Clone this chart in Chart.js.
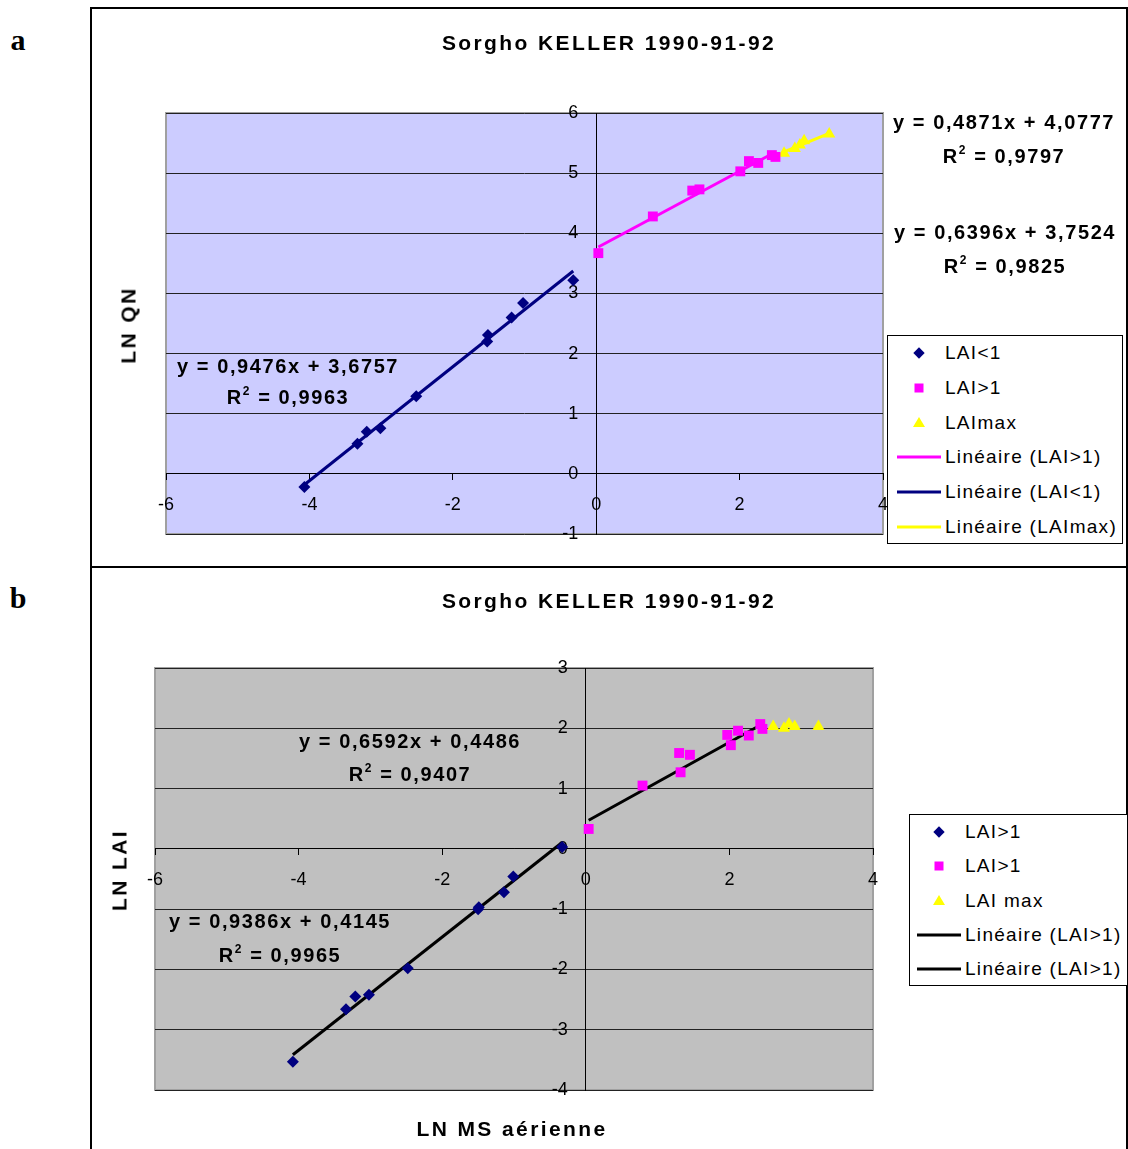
<!DOCTYPE html>
<html>
<head>
<meta charset="utf-8">
<script src="https://cdn.jsdelivr.net/npm/chart.js@4.4.0/dist/chart.umd.min.js"></script>
<style>
  body { margin: 0; width: 1128px; height: 1149px; background: #fff; position: relative; overflow: hidden;
         font-family: 'Liberation Sans', Arial, sans-serif; color: #000; }
  canvas { position: absolute; }
  .frame { position: absolute; left: 90px; top: 7px; width: 1038px; height: 1160px; border: 2px solid #000; box-sizing: border-box; }
  .sep { position: absolute; left: 90px; top: 566px; width: 1038px; height: 2px; background: #000; }
  .txt { position: absolute; white-space: nowrap; transform: translate(-50%, -50%); line-height: 1; }
  .bold { font-weight: bold; font-size: 20px; letter-spacing: 1.6px; }
  .title { font-weight: bold; font-size: 21px; letter-spacing: 2.4px; }
  .letter { font-family: 'Liberation Serif', 'Times New Roman', serif; font-weight: bold; font-size: 30px; }
  sup { font-size: 12px; vertical-align: 9px; line-height: 0; }
  .legend { position: absolute; background: #fff; border: 1px solid #000; box-sizing: border-box; }
  .row { position: absolute; left: 0; font-size: 19px; letter-spacing: 1.3px; line-height: 1; }
  .mk { position: absolute; }
</style>
</head>
<body>
<div class="frame"></div>
<div class="sep"></div>
<canvas id="chartA" width="1034" height="557" style="left:92px;top:9px"></canvas>
<canvas id="chartB" width="1034" height="581" style="left:92px;top:568px"></canvas>
<script>
// panel a : LN QN vs LN MS aerienne
const aLowX = [-4.07, -3.33, -3.20, -3.01, -2.51, -1.52, -1.51, -1.18, -1.02, -0.32];
const aLowY = [-0.22, 0.50, 0.70, 0.76, 1.29, 2.20, 2.31, 2.60, 2.84, 3.22];
const aHighX = [0.03, 0.79, 1.34, 1.44, 2.01, 2.13, 2.26, 2.45, 2.50];
const aHighY = [3.67, 4.28, 4.71, 4.73, 5.03, 5.20, 5.17, 5.30, 5.27];
const aMaxX = [2.62, 2.77, 2.84, 2.90, 3.25];
const aMaxY = [5.33, 5.41, 5.47, 5.54, 5.65];
const aFitLow = [0.9476, 3.6757];   // slope, intercept
const aFitHigh = [0.6396, 3.7524];
const aFitMax = [0.4871, 4.0777];

// panel b : LN LAI vs LN MS aerienne
const bLowX = [-4.08, -3.34, -3.21, -3.02, -2.48, -1.50, -1.49, -1.14, -1.01, -0.33];
const bLowY = [-3.53, -2.66, -2.45, -2.42, -1.98, -1.00, -0.97, -0.72, -0.46, 0.03];
const bHighX = [0.04, 0.79, 1.30, 1.32, 1.45, 1.97, 2.02, 2.12, 2.27, 2.43, 2.46];
const bHighY = [0.33, 1.05, 1.59, 1.27, 1.56, 1.89, 1.72, 1.96, 1.88, 2.07, 1.99];
const bMaxX = [2.61, 2.76, 2.83, 2.91, 3.24];
const bMaxY = [2.03, 2.00, 2.07, 2.03, 2.03];
const bFitHigh = [0.6592, 0.4486];
const bFitLow = [0.9386, 0.4145];

const xTicks = [-6, 4, 2];     // min, max, step
const aYTicks = [-1, 6, 1];
const bYTicks = [-4, 3, 1];

const NAVY = '#000080', PINK = '#ff00ff', YELLOW = '#ffff00';

const scatter = (xs, ys) => xs.map((x, i) => ({x, y: ys[i]}));
const fitLine = (fit, xs) => {
  const x0 = Math.min(...xs), x1 = Math.max(...xs);
  return [{x: x0, y: fit[0] * x0 + fit[1]}, {x: x1, y: fit[0] * x1 + fit[1]}];
};

const pointSet = (data, style, color, r) => ({
  data, showLine: false, pointStyle: style, pointRadius: r, pointHoverRadius: r,
  backgroundColor: color, borderColor: color, borderWidth: 0
});
const lineSet = (data, color) => ({
  data, showLine: true, pointRadius: 0, borderColor: color, borderWidth: 3, fill: false
});

// fond + bordure de la zone de tracé
const plotBg = {
  id: 'plotBg',
  beforeDraw(chart, args, opts) {
    const {ctx, chartArea: a} = chart;
    ctx.save();
    ctx.fillStyle = opts.color;
    ctx.fillRect(a.left, a.top, a.width, a.height);
    ctx.strokeStyle = '#a0a0a0';
    ctx.lineWidth = 2;
    ctx.strokeRect(a.left, a.top, a.width, a.height);
    ctx.restore();
  }
};

const tickFont = {family: "'Liberation Sans', Arial, sans-serif", size: 18};

const makeScales = (yt) => ({
  x: {
    type: 'linear', min: xTicks[0], max: xTicks[1], position: {y: 0},
    ticks: {stepSize: xTicks[2], padding: 14, color: '#000', font: tickFont},
    grid: {drawOnChartArea: false, drawTicks: true, tickLength: 6, color: '#000'},
    border: {color: '#000', width: 1}
  },
  y: {
    type: 'linear', min: yt[0], max: yt[1], position: {x: 0},
    // axe centré : le padding n'est pas appliqué, on décale avec des espaces
    ticks: {stepSize: yt[2], color: '#000', font: tickFont, callback: (v) => v + '\u2002\u2002'},
    grid: {color: '#222', lineWidth: 1, tickLength: 6},
    border: {color: '#000', width: 1}
  }
});

const makeChart = (id, datasets, yt, bg, padding) => new Chart(document.getElementById(id), {
  type: 'scatter',
  data: {datasets},
  options: {
    responsive: false, animation: false, devicePixelRatio: 1,
    layout: {padding},
    scales: makeScales(yt),
    plugins: {legend: {display: false}, tooltip: {enabled: false}, plotBg: {color: bg}}
  },
  plugins: [plotBg]
});

makeChart('chartA', [
  pointSet(scatter(aLowX, aLowY), 'rectRot', NAVY, 6),
  pointSet(scatter(aHighX, aHighY), 'rect', PINK, 7),
  pointSet(scatter(aMaxX, aMaxY), 'triangle', YELLOW, 7),
  lineSet(fitLine(aFitHigh, aHighX), PINK),
  lineSet(fitLine(aFitLow, aLowX), NAVY),
  lineSet(fitLine(aFitMax, aMaxX), YELLOW)
], aYTicks, '#ccccff', {left: 74, right: 243, top: 104, bottom: 32});

makeChart('chartB', [
  pointSet(scatter(bLowX, bLowY), 'rectRot', NAVY, 6),
  pointSet(scatter(bHighX, bHighY), 'rect', PINK, 7),
  pointSet(scatter(bMaxX, bMaxY), 'triangle', YELLOW, 7),
  lineSet(fitLine(bFitHigh, bHighX), '#000'),
  lineSet(fitLine(bFitLow, bLowX), '#000')
], bYTicks, '#c0c0c0', {left: 63, right: 253, top: 100, bottom: 59});

// textes
const addText = (html, x, y, cls, rot) => {
  const d = document.createElement('div');
  d.className = 'txt ' + cls;
  d.innerHTML = html;
  d.style.left = x + 'px';
  d.style.top = y + 'px';
  if (rot) d.style.transform = 'translate(-50%, -50%) rotate(-90deg)';
  document.body.appendChild(d);
};
const fmt = (v) => v.toFixed(4).replace('.', ',');
const eqn = (fit) => `y = ${fmt(fit[0])}x + ${fmt(fit[1])}`;

addText('a', 18, 40, 'letter');
addText('b', 18, 598, 'letter');
addText('Sorgho KELLER 1990-91-92', 609, 42, 'title');
addText('Sorgho KELLER 1990-91-92', 609, 600, 'title');
addText('LN QN', 128, 325, 'title', true);
addText('LN LAI', 119, 870, 'title', true);
addText('LN MS aérienne', 512, 1128, 'title');

addText(eqn(aFitLow), 288, 366, 'bold');
addText('R<sup>2</sup> = 0,9963', 288, 397, 'bold');
addText(eqn(aFitMax), 1004, 122, 'bold');
addText('R<sup>2</sup> = 0,9797', 1004, 156, 'bold');
addText(eqn(aFitHigh), 1005, 232, 'bold');
addText('R<sup>2</sup> = 0,9825', 1005, 266, 'bold');
addText(eqn(bFitHigh), 410, 741, 'bold');
addText('R<sup>2</sup> = 0,9407', 410, 774, 'bold');
addText(eqn(bFitLow), 280, 921, 'bold');
addText('R<sup>2</sup> = 0,9965', 280, 955, 'bold');

// légendes
const markerHtml = (kind, color) => {
  if (kind === 'diamond') return `<div class="mk" style="width:8px;height:8px;background:${color};transform:translate(-50%,-50%) rotate(45deg)"></div>`;
  if (kind === 'square') return `<div class="mk" style="width:9px;height:9px;background:${color};transform:translate(-50%,-50%)"></div>`;
  if (kind === 'triangle') return `<div class="mk" style="width:0;height:0;border-left:6px solid transparent;border-right:6px solid transparent;border-bottom:10px solid ${color};transform:translate(-50%,-60%)"></div>`;
  return `<div class="mk" style="width:44px;height:3px;background:${color};transform:translate(-50%,-50%)"></div>`;
};
const addLegend = (box, items, mx, tx, rowTop, rowStep) => {
  const lg = document.createElement('div');
  lg.className = 'legend';
  lg.style.left = box[0] + 'px';
  lg.style.top = box[1] + 'px';
  lg.style.width = box[2] + 'px';
  lg.style.height = box[3] + 'px';
  items.forEach((it, i) => {
    const cy = rowTop + i * rowStep;
    const m = document.createElement('div');
    m.style.position = 'absolute';
    m.style.left = mx + 'px';
    m.style.top = cy + 'px';
    m.innerHTML = markerHtml(it[0], it[1]);
    lg.appendChild(m);
    const t = document.createElement('div');
    t.className = 'row';
    t.style.left = tx + 'px';
    t.style.top = (cy - 10) + 'px';
    t.textContent = it[2];
    lg.appendChild(t);
  });
  document.body.appendChild(lg);
};

addLegend([887, 335, 236, 209], [
  ['diamond', NAVY, 'LAI<1'],
  ['square', PINK, 'LAI>1'],
  ['triangle', YELLOW, 'LAImax'],
  ['line', PINK, 'Linéaire (LAI>1)'],
  ['line', NAVY, 'Linéaire (LAI<1)'],
  ['line', YELLOW, 'Linéaire (LAImax)']
], 31, 57, 17, 34.8);

addLegend([909, 814, 219, 172], [
  ['diamond', NAVY, 'LAI>1'],
  ['square', PINK, 'LAI>1'],
  ['triangle', YELLOW, 'LAI max'],
  ['line', '#000', 'Linéaire (LAI>1)'],
  ['line', '#000', 'Linéaire (LAI>1)']
], 29, 55, 17, 34.3);
</script>
</body>
</html>
